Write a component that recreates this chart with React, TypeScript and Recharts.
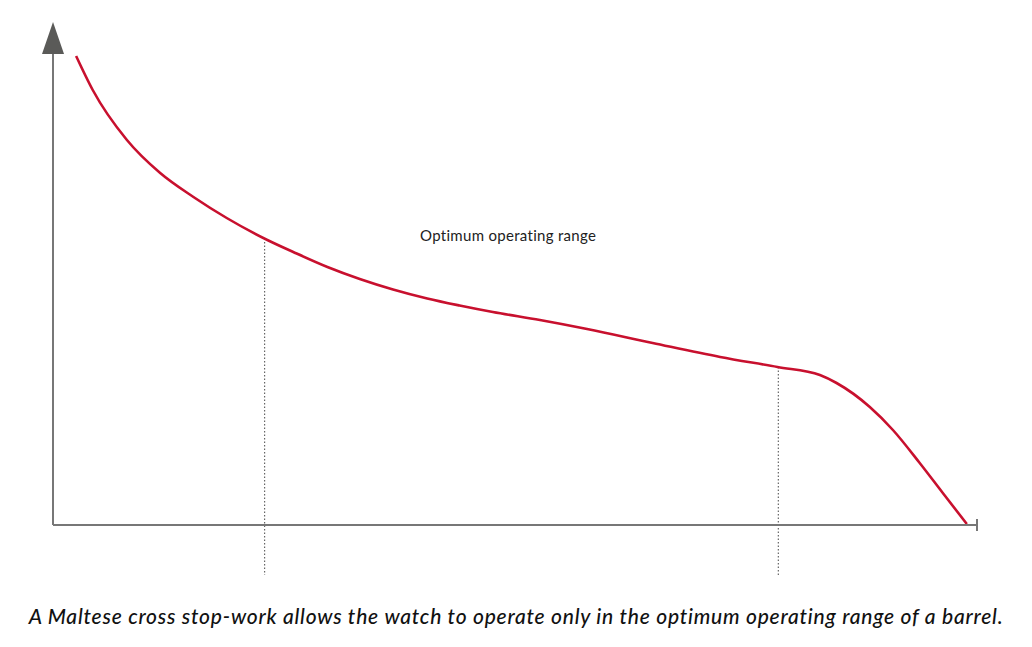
import { LineChart, Line, XAxis, YAxis, ReferenceLine, ReferenceDot } from 'recharts';

// barrel torque curve (arbitrary units)
const turns = [2.5, 4.3, 8.0, 11.6, 15.2, 18.8, 23.2, 26, 29.7, 33.2, 36.8, 40.5, 44, 47.6, 52.7, 57.8, 64.9, 72.2, 78.4, 83, 84.8, 88.4, 90.9, 93.8, 96.3, 98.9];
const torque = [93.8, 87, 77, 70.4, 65.6, 61.4, 57, 54.6, 51.6, 49.2, 47.1, 45.3, 43.9, 42.6, 41.0, 39.2, 36.4, 33.6, 31.6, 30, 28.4, 23.6, 19, 12.4, 6.4, 0.2];

const rangeStart = { x: 22.9, y: 57.3 };
const rangeEnd = { x: 78.5, y: 31.6 };

const rangeLabel = 'Optimum operating range';
const caption = 'A Maltese cross stop-work allows the watch to operate only in the optimum operating range of a barrel.';

const data = turns.map((t, i) => ({ t, v: torque[i] }));

const AXIS = '#777777';
const RED = '#c8102e';

const Arrow = (props: any) => {
  const { cx, cy } = props;
  return <path d={`M${cx},${cy - 3} L${cx + 11},${cy + 29} L${cx - 11},${cy + 29} Z`} fill="#5a5a58" />;
};

export default function App() {
  return (
    <div style={{ position: 'absolute', left: 0, top: 0, width: 1032, height: 647, background: '#fff' }}>
      <LineChart width={1032} height={647} data={data} margin={{ top: 25, right: 55, left: 0, bottom: 102 }}>
        <XAxis dataKey="t" type="number" domain={[0, 100]} tick={false} height={20}
          axisLine={{ stroke: AXIS, strokeWidth: 2 }} tickLine={false} />
        <YAxis type="number" domain={[0, 100]} tick={false} width={53}
          axisLine={{ stroke: AXIS, strokeWidth: 2 }} tickLine={false} />
        <ReferenceLine segment={[{ x: 100, y: 1.2 }, { x: 100, y: -1.2 }]} stroke={AXIS} strokeWidth={2} ifOverflow="visible" />
        <ReferenceLine segment={[rangeStart, { x: rangeStart.x, y: -10 }]} stroke="#666" strokeWidth={1.2} strokeDasharray="1.5 2" ifOverflow="visible" />
        <ReferenceLine segment={[rangeEnd, { x: rangeEnd.x, y: -10 }]} stroke="#666" strokeWidth={1.2} strokeDasharray="1.5 2" ifOverflow="visible" />
        <ReferenceDot x={0} y={100} ifOverflow="visible" shape={Arrow} />
        <Line dataKey="v" type="monotone" stroke={RED} strokeWidth={2.6} dot={false} isAnimationActive={false} />
      </LineChart>
      <div style={{ position: 'absolute', left: 420, top: 226, fontFamily: 'Lato, "Open Sans", sans-serif', fontSize: 15, letterSpacing: 0.3, color: '#222', whiteSpace: 'nowrap' }}>
        {rangeLabel}
      </div>
      <div style={{ position: 'absolute', left: 0, width: 1032, top: 603, textAlign: 'center', fontFamily: 'Lato, "Open Sans", sans-serif', fontStyle: 'italic', fontWeight: 500, fontSize: 21, letterSpacing: 0.78, color: '#111', whiteSpace: 'nowrap' }}>
        {caption}
      </div>
    </div>
  );
}
